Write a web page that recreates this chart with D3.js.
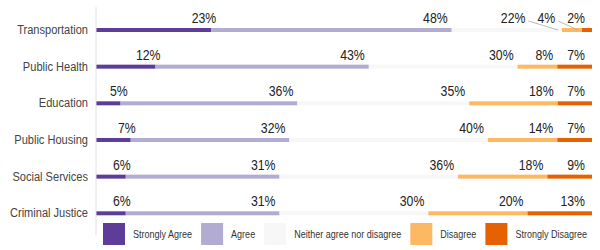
<!DOCTYPE html>
<html>
<head>
<meta charset="utf-8">
<script src="https://cdn.jsdelivr.net/npm/d3@7"></script>
<style>
  body { margin: 0; background: #fff; }
  text { font-family: "Liberation Sans", Arial, sans-serif; }
</style>
</head>
<body>
<svg id="chart" width="600" height="250"></svg>
<script>
// survey data, percent per response
var categories = ["Transportation", "Public Health", "Education", "Public Housing", "Social Services", "Criminal Justice"];
var responses = ["Strongly Agree", "Agree", "Neither agree nor disagree", "Disagree", "Strongly Disagree"];
var stronglyAgree = [23, 12, 5, 7, 6, 6];
var agree = [48, 43, 36, 32, 31, 31];
var neutral = [22, 30, 35, 40, 36, 30];
var disagree = [4, 8, 18, 14, 18, 20];
var stronglyDisagree = [2, 7, 7, 7, 9, 13];
var colors = ["#5e3c99", "#b2abd2", "#f7f7f7", "#fdb863", "#e66101"];

var series = [stronglyAgree, agree, neutral, disagree, stronglyDisagree];
var rows = categories.map(function(c, i) {
    var r = {category: c};
    responses.forEach(function(k, j) { r[k] = series[j][i]; });
    return r;
});

var svg = d3.select("#chart");
var x = d3.scaleLinear().domain([0, 1]).range([96, 592]);
var y = d3.scalePoint().domain(categories).range([30, 213.3]);
var color = d3.scaleOrdinal().domain(responses).range(colors);
var barH = 4;
var narrow = 0.82; // squeeze text like a narrow face

// place a narrow text at (px, py)
function narrowText(sel, px, py) {
    return sel.attr("x", 0).attr("y", 0)
      .attr("transform", "translate(" + px + "," + py + ") scale(" + narrow + ",1)");
}

var stack = d3.stack().keys(responses).offset(d3.stackOffsetExpand);
var stacked = stack(rows);

// bars
svg.append("g").selectAll("g")
  .data(stacked)
  .join("g")
    .attr("fill", function(d) { return color(d.key); })
  .selectAll("rect")
  .data(function(d) { return d; })
  .join("rect")
    .attr("x", function(d) { return x(d[0]); })
    .attr("width", function(d) { return x(d[1]) - x(d[0]); })
    .attr("y", function(d) { return y(d.data.category) - barH / 2; })
    .attr("height", barH);

// vertical axis line
svg.append("line")
  .attr("x1", x(0)).attr("x2", x(0))
  .attr("y1", 7).attr("y2", 235)
  .style("stroke", "#e2e2e2")
  .style("stroke-width", 1);

// category labels
svg.append("g").selectAll("text")
  .data(categories)
  .join("text")
    .each(function(d) { narrowText(d3.select(this), 88, y(d)); })
    .attr("dy", "0.3em")
    .attr("text-anchor", "end")
    .style("font-size", "13.5px")
    .style("fill", "#444")
    .text(function(d) { return d; });

// value labels with simple right-to-left collision pass
var labelG = svg.append("g");
var maxRight = 585, minLeft = 110, gap = 12;
rows.forEach(function(r, i) {
    var cy = y(r.category);
    var base = cy - 7;
    var labs = stacked.map(function(s, j) {
        var t = labelG.append("text")
          .attr("text-anchor", "end")
          .style("font-size", "15px")
          .style("fill", "#222")
          .text(r[s.key] + "%");
        var w = t.node().getComputedTextLength() * narrow;
        var end = x(s[i][1]);
        var nat = j == 0 ? end + 5 : end - 4;
        return {t: t, w: w, end: end, nat: nat, right: Math.min(nat, maxRight)};
    });
    if (labs[0].right - labs[0].w < minLeft) labs[0].right = minLeft + labs[0].w;
    for (var k = labs.length - 2; k >= 0; k--) {
        var lim = labs[k + 1].right - labs[k + 1].w - gap;
        if (labs[k].right > lim) labs[k].right = lim;
    }
    labs.forEach(function(l) {
        narrowText(l.t, l.right, base);
        if (l.nat - l.right > 8) {
            labelG.append("line")
              .attr("x1", l.right + 3).attr("y1", base - 2)
              .attr("x2", l.nat).attr("y2", cy)
              .style("stroke", "#aaa")
              .style("stroke-width", 0.8);
        }
    });
});

// legend
var legend = svg.append("g").attr("transform", "translate(103,223)");
var lx = 0;
responses.forEach(function(k) {
    legend.append("rect")
      .attr("x", lx).attr("y", 0)
      .attr("width", 22).attr("height", 22)
      .attr("fill", color(k));
    var t = legend.append("text")
      .attr("dy", "0.35em")
      .style("font-size", "11px")
      .style("fill", "#333")
      .text(k);
    narrowText(t, lx + 30, 11);
    lx += 30 + t.node().getComputedTextLength() * narrow + 9;
});
</script>
</body>
</html>
